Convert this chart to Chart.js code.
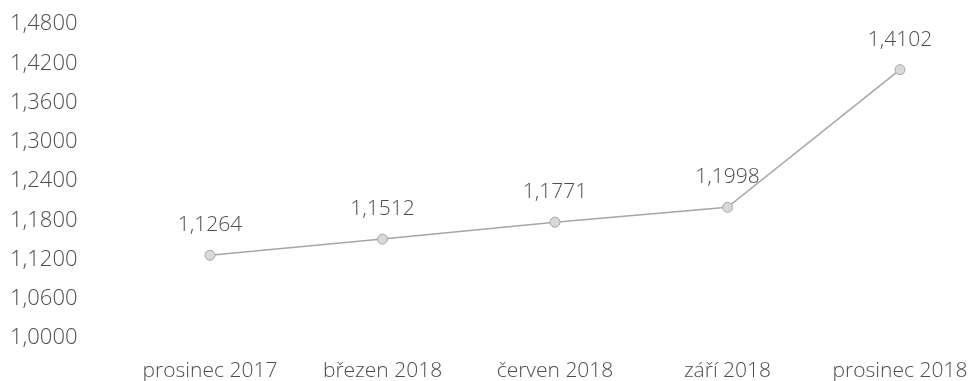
<!DOCTYPE html>
<html lang="cs">
<head>
<meta charset="utf-8">
<title>Vývoj hodnoty</title>
<script src="https://cdn.jsdelivr.net/npm/chart.js@4/dist/chart.umd.min.js"></script>
<style>
  html, body { margin: 0; padding: 0; background: #ffffff; }
  #wrap { width: 971px; height: 381px; position: relative; }
</style>
</head>
<body>
<div id="wrap"><canvas id="chart"></canvas></div>
<script>
// Období (kategorie osy X)
const categories = ['prosinec 2017', 'březen 2018', 'červen 2018', 'září 2018', 'prosinec 2018'];
// Hodnoty řady
const values = [1.1264, 1.1512, 1.1771, 1.1998, 1.4102];
// Popisky osy Y
const yTickValues = [1.00, 1.06, 1.12, 1.18, 1.24, 1.30, 1.36, 1.42, 1.48];

const FONT_FAMILY = '"Open Sans", "Liberation Sans", sans-serif';
const TEXT_COLOR = '#4d4d4d';

const fmt = v => v.toFixed(4).replace('.', ',');

// Popisky hodnot nad body řady
const valueLabels = {
  id: 'valueLabels',
  afterDatasetsDraw(chart) {
    const ctx = chart.ctx;
    const meta = chart.getDatasetMeta(0);
    ctx.save();
    ctx.font = '300 21px ' + FONT_FAMILY;
    ctx.fillStyle = TEXT_COLOR;
    ctx.textAlign = 'center';
    ctx.textBaseline = 'middle';
    meta.data.forEach((pt, i) => {
      ctx.fillText(fmt(values[i]), pt.x, pt.y - 30);
    });
    ctx.restore();
  }
};

new Chart(document.getElementById('chart'), {
  type: 'line',
  data: {
    labels: categories,
    datasets: [{
      data: values,
      borderColor: '#a6a6a6',
      borderWidth: 1.5,
      pointRadius: 5,
      pointBackgroundColor: '#d9d9d9',
      pointBorderColor: '#a6a6a6',
      pointBorderWidth: 1,
      tension: 0,
      fill: false
    }]
  },
  options: {
    responsive: true,
    maintainAspectRatio: false,
    animation: false,
    layout: { padding: { left: 10, right: 71, top: 24, bottom: 0 } },
    plugins: {
      legend: { display: false },
      tooltip: { enabled: false }
    },
    scales: {
      x: {
        offset: false,
        grid: { display: false, drawTicks: false },
        border: { display: false },
        ticks: {
          padding: 20,
          maxRotation: 0,
          autoSkip: false,
          color: TEXT_COLOR,
          font: { family: FONT_FAMILY, size: 21, weight: 300 }
        },
        afterFit(s) {
          s.height = 43;
          // krajní popisky se vejdou do okraje, bez dalšího odsazení
          s.paddingLeft = 0;
          s.paddingRight = 0;
        }
      },
      y: {
        min: 1.0,
        max: 1.48,
        grid: { display: false, drawTicks: false },
        border: { display: false },
        afterBuildTicks(s) { s.ticks = yTickValues.map(v => ({ value: v })); },
        afterFit(s) { s.width = 200; },
        ticks: {
          crossAlign: 'far',
          color: TEXT_COLOR,
          font: { family: FONT_FAMILY, size: 22, weight: 300 },
          callback: v => fmt(v)
        }
      }
    }
  },
  plugins: [valueLabels]
});
</script>
</body>
</html>
